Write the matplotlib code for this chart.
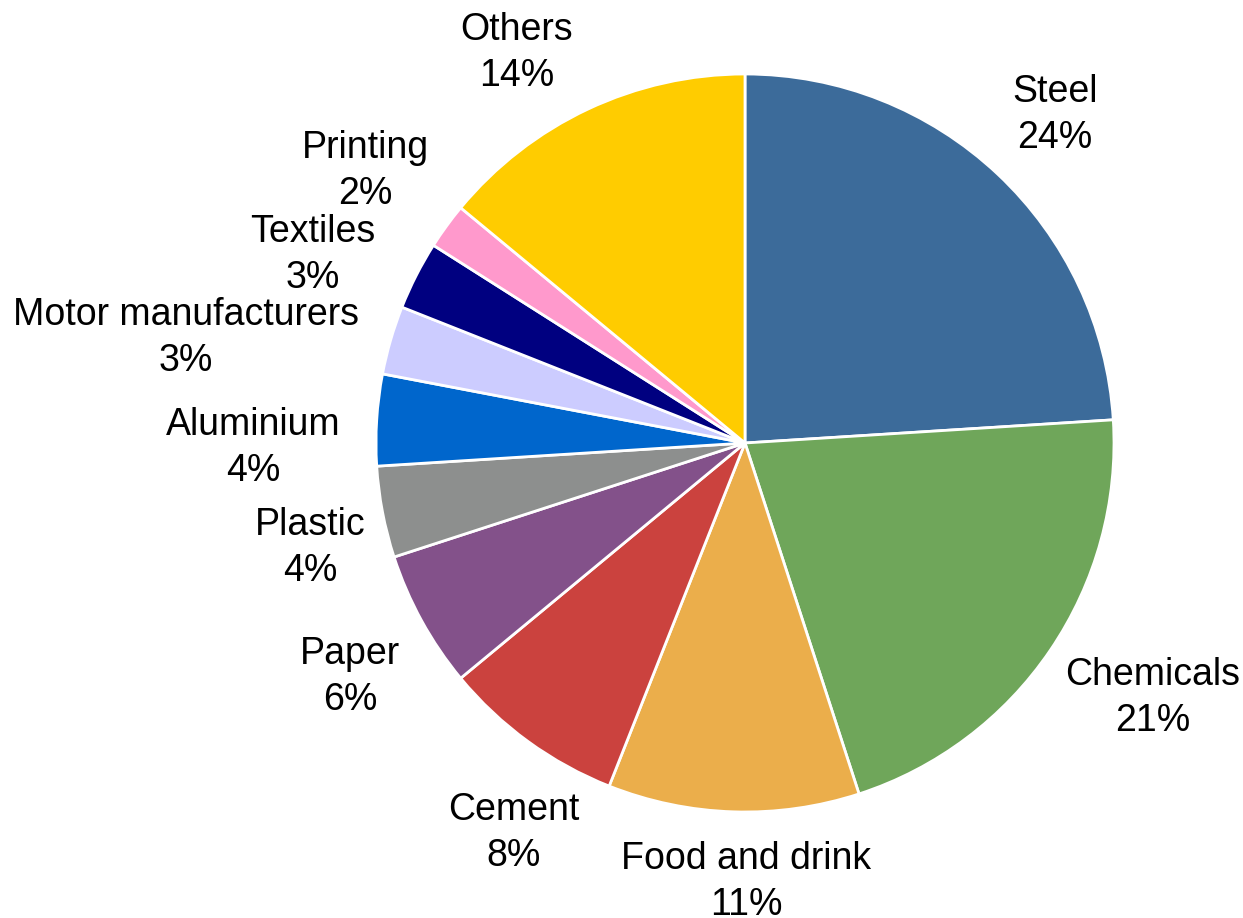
import matplotlib
matplotlib.use("Agg")
import matplotlib.pyplot as plt

plt.rcParams['font.family'] = ['Liberation Sans', 'DejaVu Sans']

sectors = ["Steel", "Chemicals", "Food and drink", "Cement", "Paper", "Plastic",
           "Aluminium", "Motor manufacturers", "Textiles", "Printing", "Others"]
shares = [24, 21, 11, 8, 6, 4, 4, 3, 3, 2, 14]
colors = ["#3C6B9A", "#6FA65A", "#EBAE4B", "#CB423E", "#83518A", "#8D8F8E",
          "#0066CC", "#CCCCFF", "#000080", "#FF99CC", "#FFCC00"]

W, H = 1243, 918

# label block centres, in pixels from the top-left corner of the canvas
label_pos = [(1055, 115), (1153, 698), (746, 882), (514, 833), (350, 677),
             (310, 548), (253, 448), (186, 338), (313, 255), (365, 171),
             (517, 53)]

fig = plt.figure(figsize=(W / 100, H / 100), dpi=100)
ax = fig.add_axes([0, 0, 1, 1])

cx, cy, r = 745, H - 443, 369
wedges, _ = ax.pie(shares, colors=colors, startangle=90, counterclock=False,
                   center=(cx, cy), radius=r, frame=True,
                   wedgeprops=dict(edgecolor='white', linewidth=2))
ax.set_xlim(0, W)
ax.set_ylim(0, H)
ax.set_aspect('equal')
ax.axis('off')

total = sum(shares)
for name, val, (px, py) in zip(sectors, shares, label_pos):
    ax.text(px, H - py, f"{name}\n{val / total * 100:.0f}%", ha='center',
            va='center', fontsize=27, linespacing=1.37, color='black')

fig.savefig("out.png", dpi=100)
